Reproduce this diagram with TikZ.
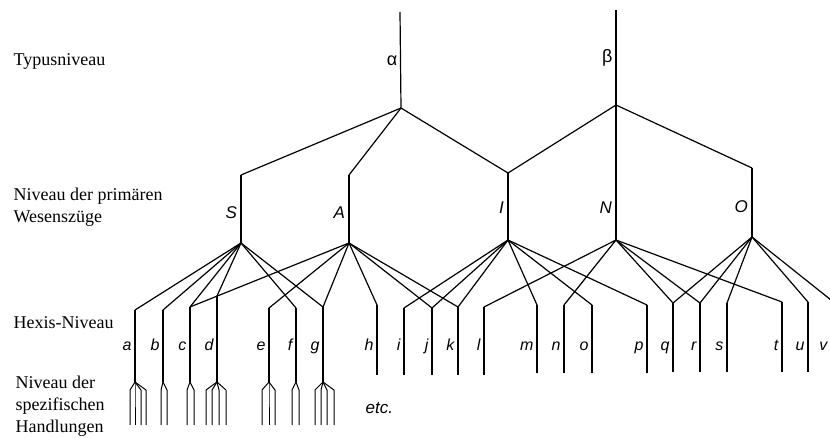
\documentclass[tikz,border=0pt]{standalone}
\usepackage{fontspec}
\setmainfont{Liberation Serif}
\newfontfamily\lblfont{Liberation Sans}
\begin{document}
\begin{tikzpicture}[x=1pt,y=-1pt,line width=1.2pt,line join=round,
    lvl/.style={anchor=base west,inner sep=0pt,font=\fontsize{18}{22}\selectfont},
    trait/.style={anchor=base east,inner sep=0pt,font=\lblfont\itshape\fontsize{17}{20}\selectfont},
    greek/.style={anchor=base east,inner sep=0pt,font=\lblfont\fontsize{18}{20}\selectfont},
    hexlbl/.style={anchor=base east,inner sep=0pt,font=\lblfont\itshape\fontsize{16}{18}\selectfont}]
  \useasboundingbox (0,0) rectangle (830,437);
  % level names on the left
  \node[lvl] (typ)  at (13,65)  {Typusniveau};
  \node[lvl] (pri1) at (13,200) {Niveau der primären};
  \node[lvl] (pri2) at (13,222) {Wesenszüge};
  \node[lvl] (hex)  at (13,328) {Hexis-Niveau};
  \node[lvl] (spz1) at (15,388) {Niveau der};
  \node[lvl] (spz2) at (15,410) {spezifischen};
  \node[lvl] (spz3) at (15,432) {Handlungen};
  %% type level
  \coordinate (topA) at (400,12);  \coordinate (alpha) at (401,108);
  \coordinate (topB) at (616,10);  \coordinate (beta)  at (616,105);
  \draw (topA) -- (alpha);
  \draw (topB) -- (beta);
  \node[greek] (la) at (398,65) {α};
  \node[greek] (lb) at (613,62) {β};
  %% primary traits: elbow and lower end
  \foreach \t/\x/\ey/\py/\ly in {S/241/175/243/218,A/349/175/243/218,I/508/173/240/213,N/616/105/240/213,O/752/168/237/212}
  {
    \coordinate (e\t) at (\x,\ey);
    \coordinate (p\t) at (\x,\py);
    \draw (e\t) -- (p\t);
    \node[trait] (l\t) at (\x-3.5,\ly) {\t};
  }
  \foreach \t in {S,A,I} \draw (alpha) -- (e\t);
  \foreach \t in {I,N,O} \draw (beta) -- (e\t);
  %% hexis level
  \foreach \h/\x/\ey/\by in {a/135/310/382,b/163/310/382,c/190/307/382,d/217/296/382,
      e/269/308/382,f/296/308/382,g/323/307/382,h/377/305/375,i/404/308/375,
      j/432/308/375,k/458/307/375,l/484/307/375,m/537/305/373,n/564/305/373,
      o/592/305/373,p/647/305/373,q/673/303/372,r/700/303/372,s/727/303/372,
      t/782/302/372,u/808/302/372,v/831/300/372}
  {
    \coordinate (h\h) at (\x,\ey);
    \coordinate (f\h) at (\x,\by);
    \draw (h\h) -- (f\h);
    \node[hexlbl] (l\h) at (\x-3,350) {\h};
  }
  \foreach \t/\hl in {S/{a,b,c,d,f,g},A/{c,e,g,h,j,k},I/{i,j,k,m,o,p},N/{l,n,q,r,t},O/{q,r,s,u,v}}
    \foreach \h in \hl
      \draw (p\t) -- (h\h);
  %% specific actions: forks
  \foreach \h/\offs in {a/{-5,0,6,11},b/{-2,4},c/{-3,4},d/{-11,-5,2,9},e/{-7,0,6},f/{-4,3},g/{-8,-2,4,11}}
    \foreach \d in \offs
      \draw[line width=1pt] (f\h) -- ++(\d,8) -- ++(0,35);
  \node[anchor=base west,inner sep=0pt,font=\lblfont\itshape\fontsize{17}{20}\selectfont] (etc) at (365,413) {etc.};
\end{tikzpicture}
\end{document}
